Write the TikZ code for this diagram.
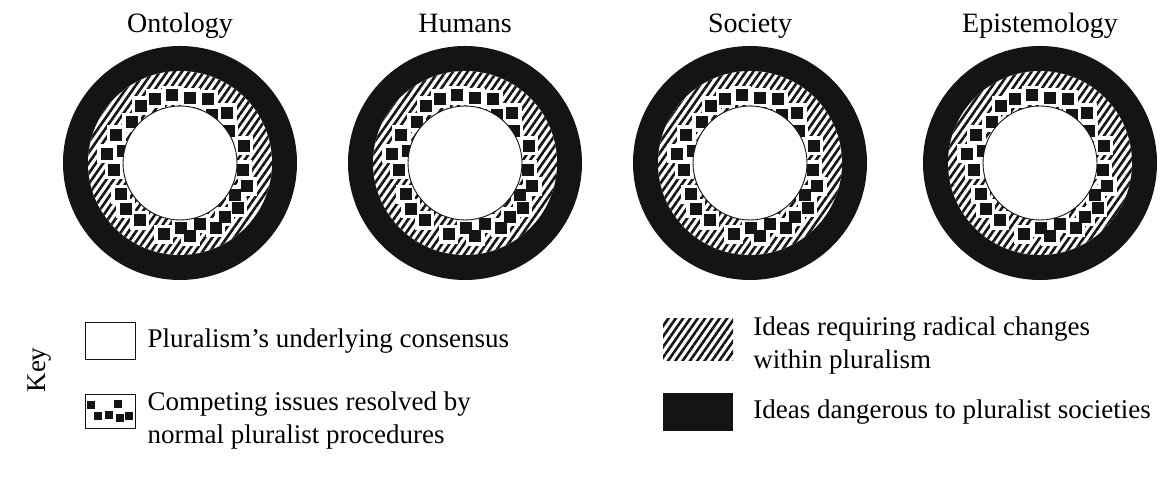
\documentclass[tikz,border=0pt]{standalone}
\usepackage{fontspec}
\setmainfont{Liberation Serif}
\usetikzlibrary{positioning, patterns.meta}
\definecolor{ink}{HTML}{141414}

\begin{document}
\begin{tikzpicture}[x=1pt, y=1pt, font=\fontsize{27}{33}\selectfont, node distance=12pt,
    danger/.style={circle, fill=ink, minimum size=234pt, inner sep=0pt},
    radical/.style={circle, inner sep=0pt, preaction={fill=white},
      pattern={Lines[angle=55, distance=6pt, line width=2.6pt]}, pattern color=ink},
    halo/.style={fill=white, minimum size=19pt, inner sep=0pt},
    issue/.style={fill=ink, minimum size=12pt, inner sep=0pt},
    consensus/.style={circle, draw=ink, line width=0.9pt, fill=white, minimum size=114pt, inner sep=0pt},
    title/.style={font=\fontsize{28}{33}\selectfont, anchor=base},
    keybox/.style={draw=ink, line width=0.9pt, minimum width=50pt, inner sep=0pt},
    keytext/.style={align=left, inner sep=0pt}]
  \useasboundingbox (0,0) rectangle (1168,478);

  % the four domains
  \foreach \c/\x/\t in {ont/180/Ontology, hum/465/Humans, soc/750/Society, epi/1040/Epistemology} {
    \node[danger] (\c) at (\x,315) {};
    \node[radical, minimum size=184pt] (\c-r) at (\c) {};
    \foreach \a/\r in {124/69, 111/69, 97/68, 81/66, 66/70, 56/58, 47/69, 33/58, 15/66, -6/63,
        -19/71, -30/64, -38/73, -50/70, -61/74, -72/64, -89/65, -82/74, -103/73, -125/70,
        -140/71, -152/67, -174/66, 173/74, 168/58, 156/70, 140/63}
      \node[halo] at ([shift={(\a:\r)}]\c.center) {};
    \foreach \a/\r in {124/69, 111/69, 97/68, 81/66, 66/70, 56/58, 47/69, 33/58, 15/66, -6/63,
        -19/71, -30/64, -38/73, -50/70, -61/74, -72/64, -89/65, -82/74, -103/73, -125/70,
        -140/71, -152/67, -174/66, 173/74, 168/58, 156/70, 140/63}
      \node[issue] at ([shift={(\a:\r)}]\c.center) {};
    \node[consensus] (\c-in) at (\c) {};
    \node[title] (\c-t) at ([yshift=13pt]\c.north) {\t};
  }

  % key
  \node[rotate=90] (key) at (40,108) {Key};
  \node[keybox, minimum height=37pt] (k1) at (110,137) {};
  \node[keytext, right=of k1] (k1-t) {Pluralism’s underlying consensus};
  \node[keybox, minimum height=34pt] (k2) at (110,67) {};
  \foreach \dx/\dy in {-19/6, -12/-5, -1/-4, 8/7, 10/-7, 19/-5}
    \node[issue, minimum size=8pt] at ([shift={(\dx,\dy)}]k2.center) {};
  \node[keytext, anchor=north west] (k2-t) at ([xshift=12pt, yshift=2pt]k2.north east)
    {Competing issues resolved by\\normal pluralist procedures};

  \node[radical, rectangle, minimum width=70pt, minimum height=42pt] (k3) at (698,138) {};
  \node[keytext, anchor=north west] (k3-t) at ([xshift=20pt, yshift=2pt]k3.north east)
    {Ideas requiring radical changes\\within pluralism};
  \node[fill=ink, minimum width=70pt, minimum height=38pt] (k4) at (698,66) {};
  \node[keytext, right=20pt of k4] (k4-t) {Ideas dangerous to pluralist societies};
\end{tikzpicture}
\end{document}
